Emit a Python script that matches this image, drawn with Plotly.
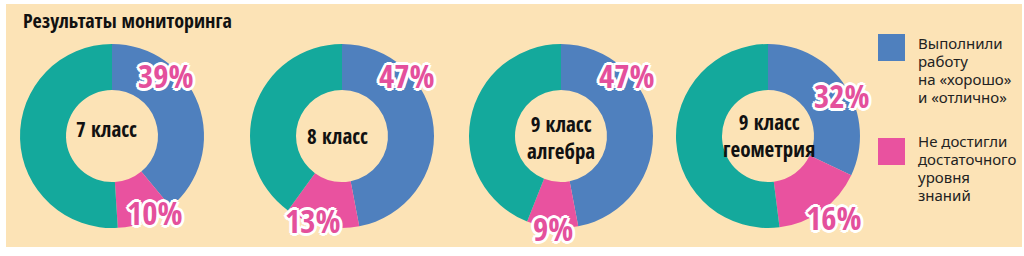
import plotly.graph_objects as go

W, H = 1024, 256

title = "Результаты мониторинга"
classes = ["7 класс", "8 класс", "9 класс<br>алгебра", "9 класс<br>геометрия"]
series_names = ["Выполнили работу на «хорошо» и «отлично»",
                "Не достигли достаточного уровня знаний",
                "Остальные"]
legend_lines = [["Выполнили", "работу", "на «хорошо»", "и «отлично»"],
                ["Не достигли", "достаточного", "уровня", "знаний"]]
good = [39, 47, 47, 32]
poor = [10, 13, 9, 16]
rest = [51, 40, 44, 52]

colors = ["#4F80BE", "#E9529F", "#14A99C"]
bg = "#FCE3B6"

# layout (pixels)
centers_x = [112, 342, 561, 768]
center_y = 136
radius = 92
center_text_x = [106, 337, 561, 769]
center_text_y = [129, 136, 137, 135]
good_lbl = [(166, 75), (407, 75), (627, 75), (842, 95)]
poor_lbl = [(155, 212), (313, 220), (553, 228), (834, 217)]

COND = "Open Sans Condensed, Roboto Condensed, sans-serif"


def px(x):
    return x / W


def py(y):
    return 1 - y / H


fig = go.Figure()
for i in range(4):
    cx = centers_x[i]
    fig.add_trace(go.Pie(
        values=[good[i], poor[i], rest[i]],
        labels=series_names,
        marker=dict(colors=colors, line=dict(width=0)),
        hole=0.5,
        sort=False,
        direction="clockwise",
        rotation=0,
        textinfo="none",
        hoverinfo="label+percent",
        showlegend=False,
        domain=dict(x=[px(cx - radius), px(cx + radius)],
                    y=[py(center_y + radius), py(center_y - radius)]),
    ))

shadow = ", ".join(f"{dx}px {dy}px 0 #ffffff" for dx, dy in
                   [(-2, -2), (2, -2), (-2, 2), (2, 2), (0, 3), (0, -3), (3, 0), (-3, 0),
                    (0, 2), (2, 0), (0, -2), (-2, 0)])
pfont = dict(family=COND, size=33, color="#E4509C", weight="bold", shadow=shadow)
cfont = dict(family=COND, size=21, color="#111111", weight="bold")

ann = []
for i in range(4):
    ann.append(dict(x=px(good_lbl[i][0]), y=py(good_lbl[i][1]), xref="paper", yref="paper",
                    text=f"{good[i]}%", showarrow=False, font=pfont, xanchor="center", yanchor="middle"))
    ann.append(dict(x=px(poor_lbl[i][0]), y=py(poor_lbl[i][1]), xref="paper", yref="paper",
                    text=f"{poor[i]}%", showarrow=False, font=pfont, xanchor="center", yanchor="middle"))
    ann.append(dict(x=px(center_text_x[i]), y=py(center_text_y[i]), xref="paper", yref="paper",
                    text=classes[i], showarrow=False, font=cfont, xanchor="center", yanchor="middle",
                    align="center"))

ann.append(dict(x=px(21), y=py(20), xref="paper", yref="paper", text=title, showarrow=False,
                xanchor="left", yanchor="middle",
                font=dict(family=COND, size=20, color="#111111", weight="bold")))

lfont = dict(family="Noto Sans, Open Sans, sans-serif", size=15, color="#222222")
legend_y = [34, 138]
legend_first_line = [43, 141]
line_step = 18
for j in range(2):
    for k, line in enumerate(legend_lines[j]):
        ann.append(dict(x=px(916), y=py(legend_first_line[j] + k * line_step), xref="paper", yref="paper",
                        text=line, showarrow=False, xanchor="left", yanchor="middle", font=lfont))

shapes = [dict(type="rect", xref="paper", yref="paper", x0=px(6), x1=px(1022), y0=py(247), y1=py(4),
               fillcolor=bg, line=dict(width=0), layer="below")]
for j in range(2):
    shapes.append(dict(type="rect", xref="paper", yref="paper", x0=px(878), x1=px(905),
                       y0=py(legend_y[j] + 27), y1=py(legend_y[j]), fillcolor=colors[j],
                       line=dict(width=0)))

fig.update_layout(width=W, height=H, margin=dict(l=0, r=0, t=0, b=0),
                  paper_bgcolor="#ffffff", plot_bgcolor="#ffffff",
                  annotations=ann, shapes=shapes, showlegend=False)

fig.write_html("out.html")
